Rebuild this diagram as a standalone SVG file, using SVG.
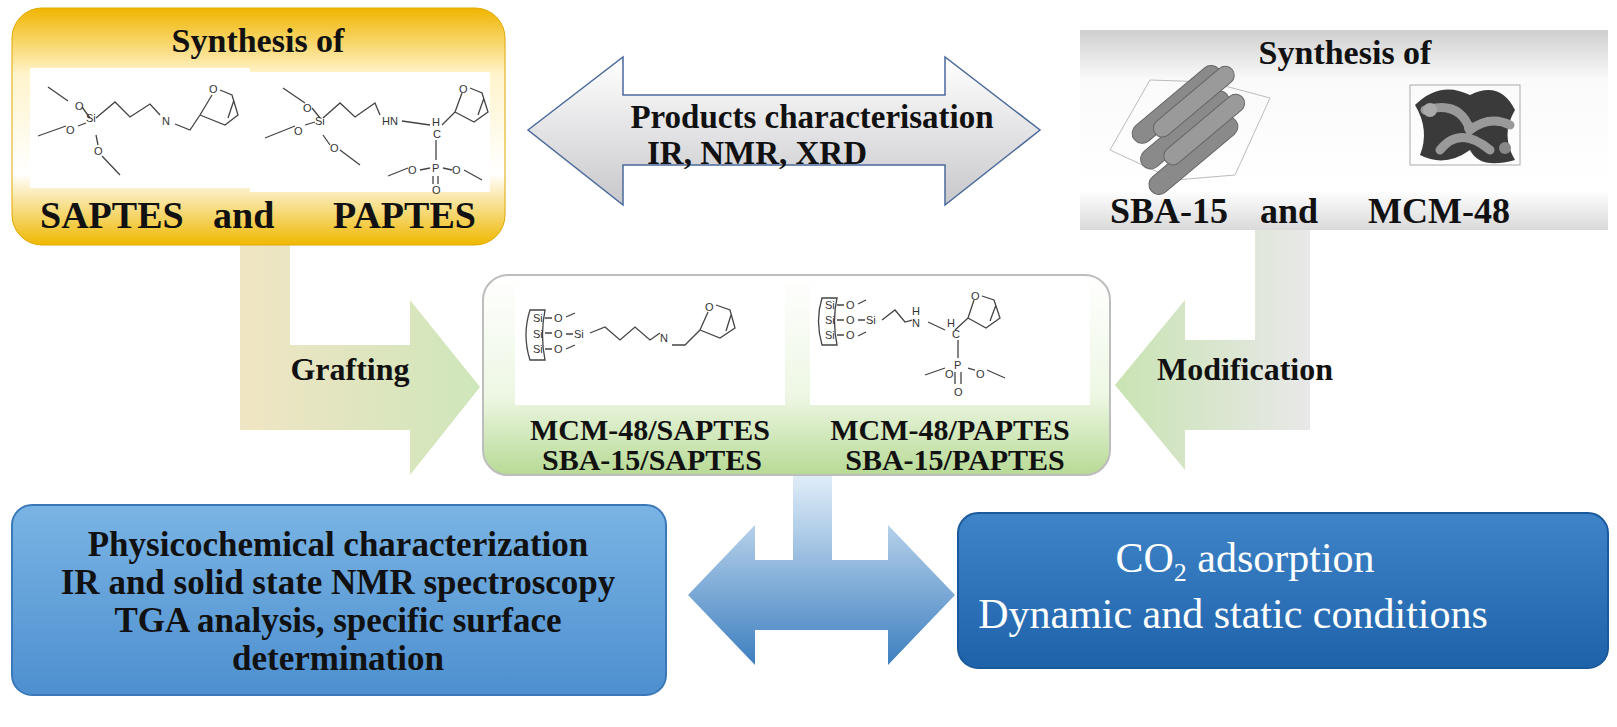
<svg xmlns="http://www.w3.org/2000/svg" width="1617" height="727" viewBox="0 0 1617 727">
<style>
.t{font-family:"Liberation Serif",serif;font-weight:bold;fill:#111}
.a{font-family:"Liberation Sans",sans-serif;font-size:11px;fill:#333}
.b{fill:none;stroke:#444;stroke-width:1.3}
.w{font-family:"Liberation Serif",serif;fill:#fff}
</style>
<defs>
<linearGradient id="gy" x1="0" y1="0" x2="0" y2="1"><stop offset="0" stop-color="#f0b500"/><stop offset="0.28" stop-color="#fff4cc"/><stop offset="0.7" stop-color="#fff"/><stop offset="1" stop-color="#efb800"/></linearGradient>
<linearGradient id="gg" x1="0" y1="0" x2="0" y2="1"><stop offset="0" stop-color="#cfcfcf"/><stop offset="0.25" stop-color="#fafafa"/><stop offset="0.8" stop-color="#fff"/><stop offset="1" stop-color="#d9d9d9"/></linearGradient>
<linearGradient id="gn" x1="0" y1="0" x2="0" y2="1"><stop offset="0" stop-color="#fff"/><stop offset="0.6" stop-color="#eef7e4"/><stop offset="1" stop-color="#b7da95"/></linearGradient>
<linearGradient id="ga" x1="0" y1="0" x2="0" y2="1"><stop offset="0" stop-color="#fff"/><stop offset="1" stop-color="#c8c8cc"/></linearGradient>
<linearGradient id="gb1" x1="0" y1="0" x2="0" y2="1"><stop offset="0" stop-color="#7ab4e4"/><stop offset="1" stop-color="#4d8fcf"/></linearGradient>
<linearGradient id="gb2" x1="0" y1="0" x2="0" y2="1"><stop offset="0" stop-color="#3f84c8"/><stop offset="1" stop-color="#1e63aa"/></linearGradient>
<linearGradient id="gba" x1="0" y1="0" x2="0" y2="1"><stop offset="0" stop-color="#e5f0fa"/><stop offset="1" stop-color="#3d7fc0"/></linearGradient>
<linearGradient id="gf" x1="0" y1="0" x2="1" y2="0"><stop offset="0" stop-color="#efe2bd"/><stop offset="1" stop-color="#c9e3b3"/></linearGradient>
<linearGradient id="gm" x1="1" y1="0" x2="0" y2="0"><stop offset="0" stop-color="#e6e6e6"/><stop offset="1" stop-color="#c3e0aa"/></linearGradient>
</defs>

<g id="connectors">
<path d="M240,245 H290 V345 H410 V300 L480,387 L410,475 V430 H240 Z" fill="url(#gf)" opacity="0.9"/>
<path d="M1255,230 H1310 V430 H1185 V470 L1115,385 L1185,300 V340 H1255 Z" fill="url(#gm)" opacity="0.9"/>
<path d="M528,130 L623,57 V95 H945 V57 L1040,130 L945,205 V165 H623 V205 Z" fill="url(#ga)" stroke="#4a6a9a" stroke-width="1.5"/>
<path d="M793,470 H832 V560 H888 V525 L955,595 L888,665 V630 H755 V665 L688,595 L755,525 V560 H793 Z" fill="url(#gba)"/>
</g>

<g id="top-left">
<rect x="12" y="8" width="493" height="237" rx="30" fill="url(#gy)" stroke="#e0a800"/>
<rect x="30" y="68" width="220" height="120" fill="#fff"/>
<rect x="250" y="72" width="240" height="120" fill="#fff"/>
<text class="t" x="258" y="52" font-size="34" text-anchor="middle">Synthesis of</text>
<text class="t" x="40" y="228" font-size="38">SAPTES</text>
<text class="t" x="213" y="228" font-size="38">and</text>
<text class="t" x="333" y="228" font-size="38">PAPTES</text>
<path class="b" d="M48,87 L68,101 M82,107 L90,118 M38,136 L66,126 M78,126 L86,123 M96,135 L98,145 M102,156 L120,175 M96,118 L115,102 L130,117 L150,104 L160,115 M175,124 L190,130 L200,115 M200,115 L212,95 M220,90 L232,95 L238,115 L225,125 L200,115 M234,100 L228,118"/>
<text class="a" x="75" y="110">O</text><text class="a" x="66" y="134">O</text><text class="a" x="86" y="122">Si</text><text class="a" x="94" y="155">O</text><text class="a" x="162" y="125">N</text><text class="a" x="209" y="93">O</text>
<path class="b" d="M283,88 L305,103 M312,108 L320,118 M265,138 L295,126 M305,125 L315,122 M323,135 L330,145 M340,150 L360,165 M323,118 L340,103 L355,117 L375,103 L380,115 M402,121 L430,125 M442,125 L455,112 M455,112 L462,93 M470,88 L482,93 L488,112 L474,122 L455,112 M484,98 L478,115 M436,140 L436,160 M388,176 L408,168 M420,170 L430,168 M443,168 L452,170 M464,170 L482,180 M433,176 L433,184 M438,176 L438,184"/>
<text class="a" x="303" y="112">O</text><text class="a" x="294" y="135">O</text><text class="a" x="315" y="125">Si</text><text class="a" x="330" y="152">O</text><text class="a" x="382" y="125">HN</text><text class="a" x="432" y="126">H</text><text class="a" x="433" y="138" font-size="9">C</text><text class="a" x="432" y="172">P</text><text class="a" x="408" y="174">O</text><text class="a" x="452" y="174">O</text><text class="a" x="432" y="194" font-size="10">O</text><text class="a" x="459" y="93">O</text>
</g>

<g id="top-center">
<text class="t" x="812" y="128" font-size="33" text-anchor="middle">Products characterisation</text>
<text class="t" x="757" y="164" font-size="33" text-anchor="middle">IR, NMR, XRD</text>
</g>

<g id="top-right">
<rect x="1080" y="30" width="528" height="200" fill="url(#gg)"/>
<text class="t" x="1345" y="64" font-size="34" text-anchor="middle">Synthesis of</text>
<text class="t" x="1110" y="223" font-size="36">SBA-15</text>
<text class="t" x="1260" y="223" font-size="36">and</text>
<text class="t" x="1368" y="223" font-size="36">MCM-48</text>
<g fill="#8a8a8a" stroke="#666" stroke-width="1">
<polygon points="1110,150 1150,80 1210,82 1270,98 1235,175 1175,180" fill="none" stroke="#bbb"/>
<g transform="rotate(-40 1185 130)">
<rect x="1140" y="95" width="110" height="20" rx="10"/><rect x="1130" y="120" width="110" height="20" rx="10"/><rect x="1120" y="145" width="110" height="20" rx="10"/>
<rect x="1160" y="105" width="100" height="18" rx="9" fill="#9a9a9a"/><rect x="1150" y="133" width="100" height="18" rx="9" fill="#9a9a9a"/>
</g>
</g>
<g>
<rect x="1410" y="85" width="110" height="80" fill="none" stroke="#aaa"/>
<path d="M1415,105 Q1440,80 1470,95 Q1500,80 1515,110 Q1500,135 1515,160 Q1480,170 1470,150 Q1445,168 1420,155 Q1430,130 1415,105 Z" fill="#3a3a3a"/>
<path d="M1425,110 Q1460,100 1470,130 Q1490,115 1510,125 M1440,150 Q1460,125 1490,150" stroke="#999" stroke-width="9" fill="none" stroke-linecap="round"/>
<circle cx="1430" cy="110" r="7" fill="#aaa"/><circle cx="1470" cy="128" r="6" fill="#999"/><circle cx="1505" cy="148" r="6" fill="#888"/>
</g>
</g>

<g id="center">
<rect x="483" y="275" width="627" height="200" rx="25" fill="url(#gn)" stroke="#bdbdbd" stroke-width="2"/>
<rect x="515" y="285" width="270" height="120" fill="#fff"/>
<rect x="810" y="285" width="280" height="120" fill="#fff"/>
<path class="b" d="M530,310 Q522,335 530,360 L545,360 Q540,335 545,310 Z M545,318 H552 M545,333 H552 M545,349 H552 M566,317 L575,313 M566,334 H573 M566,349 L575,345 M590,333 L605,327 L620,340 L635,327 L650,340 L660,333 M672,345 L685,345 L700,330 M700,330 L708,312 M716,305 L730,310 L735,328 L720,338 L700,330 M731,315 L726,331"/>
<text class="a" x="533" y="322" font-size="9">Si</text><text class="a" x="533" y="338" font-size="9">Si</text><text class="a" x="533" y="353" font-size="9">Si</text>
<text class="a" x="554" y="322">O</text><text class="a" x="554" y="338">O</text><text class="a" x="554" y="353">O</text><text class="a" x="574" y="338" font-size="13">Si</text><text class="a" x="660" y="342">N</text><text class="a" x="705" y="311">O</text>
<path class="b" d="M822,298 Q815,320 822,345 L837,345 Q832,320 837,298 Z M837,305 H844 M837,320 H844 M837,335 H844 M858,304 L866,300 M858,320 H865 M858,336 L866,332 M882,320 L895,310 L905,322 L912,320 M928,322 L945,330 M955,330 L968,318 M968,318 L974,300 M982,296 L994,300 L1000,318 L986,328 L968,318 M996,305 L990,321 M958,340 L958,358 M925,375 L945,368 M968,368 L975,370 M987,370 L1005,378 M955,372 L955,384 M961,372 L961,384"/>
<text class="a" x="825" y="309" font-size="9">Si</text><text class="a" x="825" y="324" font-size="9">Si</text><text class="a" x="825" y="339" font-size="9">Si</text>
<text class="a" x="846" y="309">O</text><text class="a" x="846" y="324">O</text><text class="a" x="846" y="339">O</text><text class="a" x="866" y="324" font-size="13">Si</text><text class="a" x="912" y="315">H</text><text class="a" x="912" y="327">N</text><text class="a" x="947" y="327">H</text><text class="a" x="952" y="338" font-size="9">C</text><text class="a" x="954" y="369">P</text><text class="a" x="945" y="378">O</text><text class="a" x="976" y="378">O</text><text class="a" x="954" y="396">O</text><text class="a" x="971" y="300">O</text>
<text class="t" x="650" y="440" font-size="30" text-anchor="middle" font-weight="normal">MCM-48/SAPTES</text>
<text class="t" x="652" y="470" font-size="30" text-anchor="middle" font-weight="normal">SBA-15/SAPTES</text>
<text class="t" x="950" y="440" font-size="30" text-anchor="middle" font-weight="normal">MCM-48/PAPTES</text>
<text class="t" x="955" y="470" font-size="30" text-anchor="middle" font-weight="normal">SBA-15/PAPTES</text>
</g>

<g id="labels">
<text class="t" x="350" y="380" font-size="32" text-anchor="middle">Grafting</text>
<text class="t" x="1245" y="380" font-size="32" text-anchor="middle">Modification</text>
</g>

<g id="bottom-left">
<rect x="12" y="505" width="654" height="190" rx="20" fill="url(#gb1)" stroke="#3a78b8" stroke-width="2"/>
<text class="t" x="338" y="556" font-size="35" text-anchor="middle">Physicochemical characterization</text>
<text class="t" x="338" y="594" font-size="35" text-anchor="middle">IR and solid state NMR spectroscopy</text>
<text class="t" x="338" y="632" font-size="35" text-anchor="middle">TGA analysis, specific surface</text>
<text class="t" x="338" y="670" font-size="35" text-anchor="middle">determination</text>
</g>

<g id="bottom-right">
<rect x="958" y="513" width="650" height="155" rx="20" fill="url(#gb2)" stroke="#1a5a9c" stroke-width="2"/>
<text class="w" x="1245" y="572" font-size="42" text-anchor="middle">CO<tspan font-size="26" dy="9">2</tspan><tspan dy="-9"> adsorption</tspan></text>
<text class="w" x="1233" y="628" font-size="42" text-anchor="middle">Dynamic and static conditions</text>
</g>
</svg>
